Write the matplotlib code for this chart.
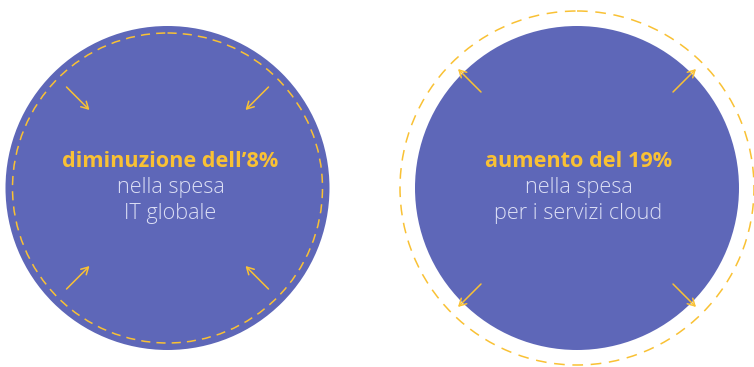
import matplotlib
matplotlib.use("Agg")
import matplotlib.pyplot as plt
from matplotlib.patches import Circle

# Data
percentages = ["8%", "19%"]
headlines = ["diminuzione dell\u20198%", "aumento del 19%"]
sublines = [["nella spesa", "IT globale"], ["nella spesa", "per i servizi cloud"]]
directions = ["in", "out"]

FILL = "#5e67b8"
YELLOW = "#f9c134"
LIGHT = "#dcdff5"

fig = plt.figure(figsize=(7.54, 3.67), dpi=100)
ax = fig.add_axes([0, 0, 1, 1])
ax.set_xlim(0, 754)
ax.set_ylim(367, 0)
ax.set_aspect("equal")
ax.axis("off")

centers = [(167.5, 188), (577, 188)]
text_dx = [3, 1.5]
R = 162

for i, (cx, cy) in enumerate(centers):
    ax.add_patch(Circle((cx, cy), R, facecolor=FILL, edgecolor="none", zorder=1))
    if directions[i] == "in":
        ax.add_patch(Circle((cx, cy), 155, facecolor="none", edgecolor=YELLOW,
                            lw=1.1, linestyle=(0, (6, 4)), zorder=2))
        for sx, sy in [(-1, -1), (1, -1), (-1, 1), (1, 1)]:
            start = (cx + sx * 101, cy + sy * 101)
            end = (cx + sx * 78, cy + sy * 78)
            ax.annotate("", xy=end, xytext=start,
                        arrowprops=dict(arrowstyle="->,head_length=0.5,head_width=0.28",
                                        color=YELLOW, lw=1.1, shrinkA=0, shrinkB=0), zorder=3)
    else:
        ax.add_patch(Circle((cx, cy), 177, facecolor="none", edgecolor=YELLOW,
                            lw=1.1, linestyle=(0, (7, 5)), zorder=2))
        for sx, sy in [(-1, -1), (1, -1), (-1, 1), (1, 1)]:
            start = (cx + sx * 96, cy + sy * 96)
            end = (cx + sx * 119, cy + sy * 119)
            ax.annotate("", xy=end, xytext=start,
                        arrowprops=dict(arrowstyle="->,head_length=0.5,head_width=0.28",
                                        color=YELLOW, lw=1.1, shrinkA=0, shrinkB=0), zorder=3)
    tx = cx + text_dx[i]
    ax.text(tx, 167, headlines[i], ha="center", va="baseline", fontsize=15.6,
            fontweight="bold", color=YELLOW, family="Open Sans", zorder=4)
    for j, line in enumerate(sublines[i]):
        ax.text(tx, 193 + 26 * j, line, ha="center", va="baseline", fontsize=15.6,
                fontweight="light", color=LIGHT, family="Open Sans", zorder=4)

fig.savefig("out.png", dpi=100)
